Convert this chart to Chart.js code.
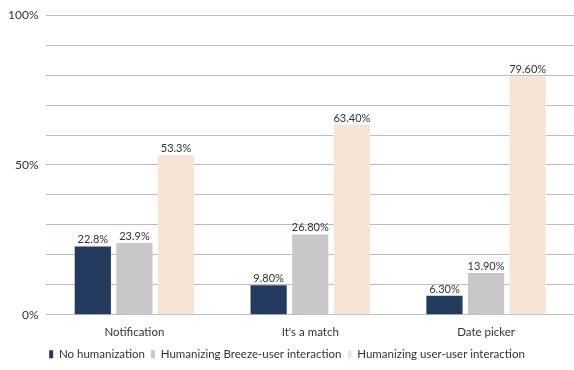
<!DOCTYPE html>
<html>
<head>
<meta charset="utf-8">
<script src="https://cdn.jsdelivr.net/npm/chart.js@4"></script>
<style>
  html, body { margin: 0; padding: 0; background: #fff; }
  #wrap { width: 574px; height: 370px; }
</style>
</head>
<body>
<div id="wrap"><canvas id="chart"></canvas></div>
<script>
// Data
const categories = ['Notification', "It's a match", 'Date picker'];
const seriesNames = ['No humanization', 'Humanizing Breeze-user interaction', 'Humanizing user-user interaction'];
const noHumanization = [22.8, 9.8, 6.3];
const breezeUser = [23.9, 26.8, 13.9];
const userUser = [53.3, 63.4, 79.6];
const noHumanizationLabels = ['22.8%', '9.80%', '6.30%'];
const breezeUserLabels = ['23.9%', '26.80%', '13.90%'];
const userUserLabels = ['53.3%', '63.40%', '79.60%'];
const yTickLabels = { 0: '0%', 50: '50%', 100: '100%' };

const colors = ['#243b5f', '#c8c8c8', '#f6e4d4'];
const fontFamily = 'Lato, "Noto Sans", sans-serif';

// Value labels on top of bars
const valueLabels = {
    id: 'valueLabels',
    afterDatasetsDraw(chart) {
        const ctx = chart.ctx;
        ctx.save();
        ctx.font = '11px ' + fontFamily;
        ctx.fillStyle = '#333';
        ctx.textAlign = 'center';
        ctx.textBaseline = 'bottom';
        chart.data.datasets.forEach((ds, i) => {
            chart.getDatasetMeta(i).data.forEach((bar, j) => {
                ctx.fillText(ds.valueLabels[j], bar.x, bar.y - 1);
            });
        });
        ctx.restore();
    }
};

const ctx = document.getElementById('chart').getContext('2d');
new Chart(ctx, {
    type: 'bar',
    data: {
        labels: categories,
        datasets: [
            { label: seriesNames[0], data: noHumanization, valueLabels: noHumanizationLabels, backgroundColor: colors[0] },
            { label: seriesNames[1], data: breezeUser, valueLabels: breezeUserLabels, backgroundColor: colors[1] },
            { label: seriesNames[2], data: userUser, valueLabels: userUserLabels, backgroundColor: colors[2] }
        ]
    },
    options: {
        responsive: true,
        maintainAspectRatio: false,
        animation: false,
        datasets: {
            bar: {
                categoryPercentage: 0.71,
                barPercentage: 0.87
            }
        },
        layout: {
            padding: { top: 3, right: 0, left: 0, bottom: 0 }
        },
        plugins: {
            legend: {
                position: 'bottom',
                labels: {
                    boxWidth: 4,
                    boxHeight: 8,
                    padding: 6,
                    color: '#333',
                    font: { family: fontFamily, size: 11.5 }
                }
            },
            tooltip: { enabled: false }
        },
        scales: {
            x: {
                grid: { display: false },
                border: { display: false },
                ticks: {
                    color: '#333',
                    padding: 3,
                    font: { family: fontFamily, size: 11.5 }
                }
            },
            y: {
                min: 0,
                max: 100,
                border: { display: false },
                grid: {
                    color: '#b9bdcb',
                    lineWidth: 1,
                    drawTicks: false
                },
                ticks: {
                    stepSize: 10,
                    autoSkip: false,
                    color: '#333',
                    padding: 8,
                    font: { family: fontFamily, size: 12 },
                    callback: v => yTickLabels[v] || ''
                }
            }
        }
    },
    plugins: [valueLabels]
});
</script>
</body>
</html>
